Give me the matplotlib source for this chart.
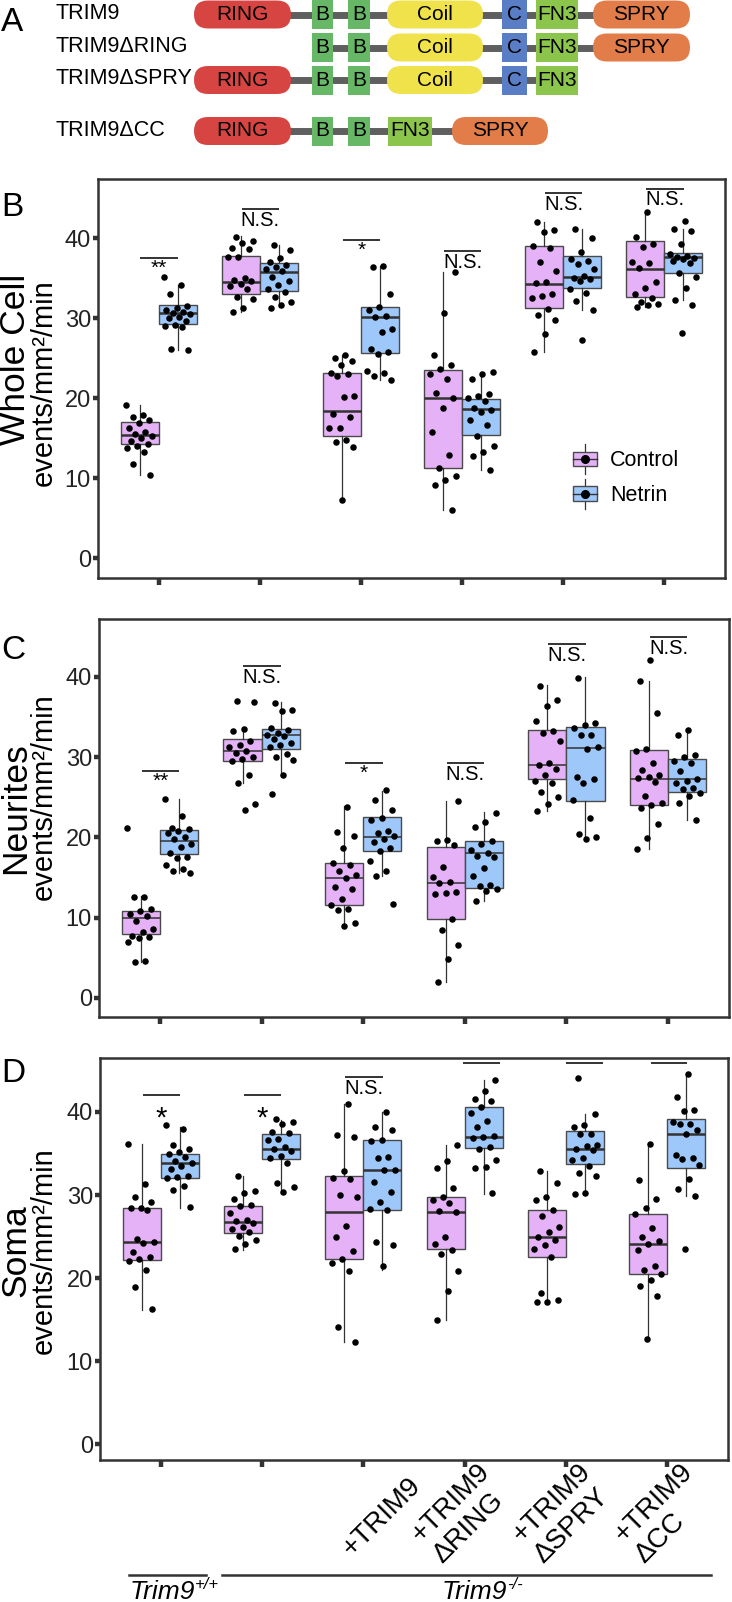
import numpy as np
import matplotlib
matplotlib.use('Agg')
from matplotlib import pyplot as plt
from matplotlib.patches import FancyBboxPatch, Rectangle
from matplotlib.legend_handler import HandlerBase
from matplotlib.lines import Line2D
from matplotlib.transforms import ScaledTranslation, blended_transform_factory

plt.rcParams['font.family'] = ['Liberation Sans', 'DejaVu Sans']

# ---- panel A: domain maps (start / end along the drawing, px) ----
construct_names = ['TRIM9', 'TRIM9ΔRING', 'TRIM9ΔSPRY', 'TRIM9ΔCC']
construct_domains = [
    ['RING', 'B', 'B', 'Coil', 'C', 'FN3', 'SPRY'],
    ['B', 'B', 'Coil', 'C', 'FN3', 'SPRY'],
    ['RING', 'B', 'B', 'Coil', 'C', 'FN3'],
    ['RING', 'B', 'B', 'FN3', 'SPRY'],
]
domain_start = [[194, 312, 348, 387, 502, 536, 593],
                [312, 348, 387, 502, 536, 593],
                [194, 312, 348, 387, 502, 536],
                [194, 312, 348, 388, 452]]
domain_end = [[291, 333, 370, 483, 527, 578, 690],
              [333, 370, 483, 527, 578, 690],
              [291, 333, 370, 483, 527, 578],
              [291, 333, 370, 432, 548]]

# ---- panels B-D ----
conditions = ['Control', 'Netrin']
x_labels = ['', '', '+TRIM9', '+TRIM9\nΔRING', '+TRIM9\nΔSPRY', '+TRIM9\nΔCC']
genotypes = [('Trim9', '+/+'), ('Trim9', '-/-')]

# box stats: (whisker low, q1, median, q3, whisker high)
wc_ctrl_box = [(10.4, 14.2, 15.4, 17.0, 19.1), (30.8, 33.0, 34.5, 37.8, 40.3),
               (7.3, 15.2, 18.4, 23.2, 25.4), (6.0, 11.2, 20.0, 23.5, 35.8),
               (25.8, 31.3, 34.3, 39.0, 42.0), (31.4, 32.6, 36.2, 39.6, 43.3)]
wc_net_box = [(26.0, 29.3, 30.6, 31.6, 34.1), (31.4, 33.4, 35.8, 36.9, 39.1),
              (22.3, 25.7, 30.1, 31.4, 36.5), (11.0, 15.4, 18.6, 19.9, 23.3),
              (31.0, 33.8, 35.1, 37.8, 41.2), (32.3, 35.7, 37.7, 38.2, 41.2)]
wc_ctrl_pts = [
    [19.1, 17.9, 17.6, 17.2, 16.9, 16.3, 15.8, 15.5, 15.3, 15.0, 14.6, 14.2, 14.0, 13.8, 13.2, 11.8, 10.4],
    [40.1, 39.7, 39.4, 38.8, 38.6, 37.7, 37.6, 35.0, 34.8, 34.6, 34.3, 34.0, 33.6, 32.7, 32.4, 31.3, 30.8],
    [25.4, 25.0, 24.6, 24.2, 23.2, 23.0, 22.8, 20.3, 20.1, 18.0, 17.6, 16.3, 16.2, 14.8, 14.5, 13.9, 7.3],
    [35.8, 30.6, 25.4, 24.2, 23.6, 23.0, 22.4, 20.6, 20.0, 18.8, 15.8, 12.9, 11.3, 10.3, 9.7, 9.1, 6.0],
    [42.0, 41.0, 40.8, 39.0, 38.8, 37.0, 35.9, 34.5, 34.4, 33.0, 32.8, 32.5, 31.2, 30.4, 29.8, 28.0, 25.8],
    [43.3, 40.2, 39.3, 38.9, 37.0, 36.9, 36.3, 34.5, 33.8, 33.0, 32.5, 32.0, 31.8, 31.6, 31.4],
]
wc_net_pts = [
    [35.1, 34.1, 33.0, 31.5, 31.3, 31.0, 30.8, 30.6, 30.5, 30.2, 30.0, 29.6, 29.2, 29.0, 28.9, 26.2, 26.0],
    [39.1, 38.5, 37.5, 37.0, 36.6, 36.4, 36.2, 35.9, 35.2, 34.7, 34.2, 33.7, 33.3, 32.7, 32.0, 31.6, 31.3],
    [36.5, 36.4, 33.0, 31.4, 31.0, 30.3, 30.1, 28.7, 28.3, 26.2, 25.8, 25.5, 23.4, 23.2, 22.8, 22.3],
    [23.3, 23.0, 22.4, 20.5, 20.2, 20.0, 19.6, 18.8, 18.5, 18.2, 17.3, 16.6, 15.3, 14.0, 13.3, 12.8, 11.0],
    [41.2, 40.0, 38.3, 37.4, 37.2, 36.8, 36.2, 35.3, 35.0, 34.9, 34.6, 33.7, 33.2, 32.2, 31.0, 27.3],
    [42.2, 41.2, 40.9, 39.3, 38.0, 37.8, 37.7, 37.5, 37.4, 37.2, 36.9, 35.7, 35.2, 33.8, 32.3, 31.6, 28.2],
]
wc_sig_y = [37.5, 43.6, 39.75, 38.4, 45.6, 46.2]
wc_sig_txt = ['**', 'N.S.', '*', 'N.S.', 'N.S.', 'N.S.']

ne_ctrl_box = [(4.4, 7.9, 10.0, 10.8, 12.7), (26.8, 29.5, 30.7, 32.2, 33.7),
               (8.9, 11.6, 14.9, 16.8, 23.9), (1.9, 9.8, 14.3, 18.8, 24.5),
               (23.3, 27.2, 29.0, 33.4, 39.0), (18.5, 24.0, 27.3, 30.9, 39.5)]
ne_net_box = [(15.6, 17.9, 19.5, 20.9, 24.8), (27.7, 31.0, 32.7, 33.5, 36.8),
              (15.2, 18.3, 20.0, 22.5, 25.8), (12.0, 13.7, 18.0, 19.5, 23.1),
              (19.8, 24.5, 31.1, 33.8, 40.0), (22.1, 25.6, 27.2, 29.8, 33.5)]
ne_ctrl_pts = [
    [21.2, 12.6, 12.5, 11.0, 10.8, 10.4, 10.2, 9.6, 8.6, 8.2, 7.7, 7.6, 7.4, 6.9, 4.6, 4.4],
    [37.0, 36.8, 33.5, 33.2, 32.0, 31.5, 31.2, 30.7, 30.5, 30.0, 29.8, 29.5, 27.8, 26.8, 24.2, 23.4],
    [23.8, 20.6, 20.2, 18.7, 16.8, 16.6, 15.8, 15.3, 14.9, 13.8, 13.5, 12.3, 11.5, 11.0, 10.9, 9.3, 8.9],
    [24.5, 19.7, 19.5, 19.0, 16.3, 15.0, 14.4, 14.3, 13.2, 13.0, 12.9, 9.8, 8.4, 6.6, 4.8, 1.9],
    [38.9, 37.1, 36.4, 34.5, 33.3, 33.0, 32.0, 29.3, 29.0, 28.5, 27.7, 27.0, 26.8, 25.7, 25.0, 24.2, 23.3],
    [42.1, 39.5, 35.5, 31.0, 30.8, 29.2, 28.4, 27.7, 27.5, 27.4, 26.9, 25.2, 24.3, 24.0, 23.6, 21.7, 19.9, 18.5],
]
ne_net_pts = [
    [24.8, 22.7, 21.2, 21.0, 20.8, 20.5, 20.0, 19.8, 19.2, 18.8, 18.0, 17.6, 17.4, 16.5, 16.1, 15.8, 15.6],
    [36.7, 35.9, 35.7, 33.6, 33.4, 33.0, 32.8, 32.6, 32.2, 31.8, 31.5, 31.2, 30.4, 30.0, 29.6, 27.7, 25.4],
    [25.9, 24.6, 23.4, 22.4, 22.2, 20.8, 20.5, 20.1, 19.8, 19.4, 18.6, 18.3, 17.0, 15.8, 15.2, 11.7],
    [23.0, 21.9, 21.3, 19.5, 19.2, 18.4, 18.0, 17.7, 17.5, 16.2, 15.2, 14.0, 13.9, 13.5, 13.3, 12.0],
    [39.8, 34.3, 34.0, 33.6, 32.8, 32.7, 31.2, 31.0, 27.5, 27.2, 26.8, 24.6, 22.4, 20.4, 20.0, 19.8],
    [33.4, 32.8, 30.3, 30.0, 29.5, 29.3, 28.2, 27.2, 27.0, 26.8, 26.2, 26.0, 25.5, 25.2, 24.3, 22.1],
]
ne_sig_y = [28.25, 41.3, 29.2, 29.25, 44.1, 44.9]
ne_sig_txt = ['**', 'N.S.', '*', 'N.S.', 'N.S.', 'N.S.']

so_ctrl_box = [(16.2, 22.2, 24.3, 28.4, 36.1), (23.4, 25.4, 26.8, 28.7, 32.3),
               (12.3, 22.3, 28.0, 32.3, 41.0), (14.9, 23.5, 28.0, 29.8, 36.0),
               (17.1, 22.5, 25.0, 28.2, 32.9), (12.7, 20.5, 24.1, 27.7, 36.1)]
so_net_box = [(28.5, 32.1, 33.9, 34.9, 38.2), (30.2, 34.3, 35.5, 37.4, 39.0),
              (21.0, 28.2, 33.0, 36.6, 40.0), (30.1, 35.7, 37.0, 40.6, 43.9),
              (30.2, 33.7, 35.5, 37.75, 39.7), (29.9, 33.3, 37.4, 39.1, 44.5)]
so_ctrl_pts = [
    [36.2, 31.3, 29.8, 29.2, 28.5, 28.4, 28.2, 24.7, 24.3, 24.2, 23.2, 22.6, 22.3, 22.1, 21.0, 18.9, 16.3],
    [32.3, 30.5, 30.2, 29.5, 28.8, 28.7, 27.8, 27.0, 26.9, 26.6, 26.2, 25.9, 25.6, 25.1, 24.6, 24.1, 23.5],
    [41.0, 37.2, 37.0, 32.9, 32.0, 31.9, 30.0, 29.8, 26.3, 25.0, 23.3, 22.3, 21.8, 20.8, 14.1, 12.3],
    [36.0, 34.1, 33.3, 30.9, 29.8, 29.4, 29.1, 28.1, 27.9, 25.0, 24.1, 23.4, 22.9, 20.8, 18.4, 14.9],
    [32.9, 31.4, 29.8, 29.4, 28.2, 27.5, 26.2, 25.6, 25.0, 24.6, 24.0, 23.5, 22.5, 18.2, 17.4, 17.1, 17.1],
    [36.1, 31.8, 29.5, 28.4, 27.7, 26.0, 24.9, 24.5, 24.1, 23.4, 21.4, 21.0, 20.5, 19.8, 19.0, 17.8, 12.7],
]
so_net_pts = [
    [38.4, 37.9, 36.0, 35.6, 35.2, 34.9, 34.6, 34.1, 33.8, 33.5, 33.1, 32.3, 32.2, 32.0, 31.1, 30.6, 28.6],
    [39.1, 38.8, 38.6, 37.6, 37.5, 36.7, 36.6, 35.8, 35.6, 35.3, 34.7, 34.5, 33.9, 31.5, 31.0, 30.4],
    [40.0, 38.2, 37.8, 36.6, 36.5, 34.6, 34.5, 33.0, 33.0, 31.6, 30.4, 29.2, 28.3, 28.2, 24.4, 24.0, 21.4],
    [43.9, 42.5, 41.6, 41.3, 40.6, 39.9, 38.9, 38.2, 37.1, 37.0, 36.9, 35.8, 35.6, 34.2, 33.4, 33.3, 30.2],
    [44.1, 39.7, 38.4, 38.2, 37.4, 37.3, 36.0, 35.9, 35.6, 35.4, 34.5, 34.2, 33.5, 32.7, 32.3, 30.3, 30.1],
    [44.6, 41.8, 40.2, 40.1, 38.8, 38.6, 38.5, 37.8, 37.3, 34.8, 34.5, 34.4, 33.6, 31.9, 30.7, 29.9, 23.5],
]
so_sig_y = [42.1, 42.1, 44.2, 45.9, 45.9, 45.9]
so_sig_txt = ['*', '*', 'N.S.', '', '', '']

# ---- styling ----
W, H = 732, 1602
PINK = '#e5b2f7'
BLUE = '#9ec8fa'
DARK = '#333333'
dom_color = {'RING': '#d64541', 'B': '#66b866', 'Coil': '#efe24a', 'C': '#5a7ec6',
             'FN3': '#8cc54b', 'SPRY': '#e27c48'}
pill_domains = ('RING', 'Coil', 'SPRY')

fig = plt.figure(figsize=(W / 100, H / 100), dpi=100)


def px_axes(left, top, right, bottom):
    return fig.add_axes([left / W, 1 - bottom / H, (right - left) / W, (bottom - top) / H])


# panel A
axA = px_axes(0, 0, W, 160)
axA.set_xlim(0, W)
axA.set_ylim(160, 0)
axA.axis('off')
row_y = [14.5, 47.5, 80, 131]
for name, doms, st, en, y in zip(construct_names, construct_domains, domain_start, domain_end, row_y):
    axA.text(55, y - 1, name, fontsize=15.5, ha='left', va='center')
    axA.plot([st[0] + 5, en[-1] - 5], [y, y], color='#5f5f5f', lw=5, zorder=1, solid_capstyle='butt')
    h = 28
    for d, x0, x1 in zip(doms, st, en):
        if d in pill_domains:
            p = FancyBboxPatch((x0, y - h / 2), x1 - x0, h,
                               boxstyle='round,pad=0,rounding_size=%g' % (h / 2),
                               fc=dom_color[d], ec='none', zorder=2)
        else:
            p = Rectangle((x0, y - h / 2 - 0.5), x1 - x0, h + 1, fc=dom_color[d], ec='none', zorder=2)
        axA.add_patch(p)
        axA.text((x0 + x1) / 2, y, d, fontsize=15, ha='center', va='center', zorder=3)


class BoxKey(HandlerBase):
    def create_artists(self, legend, orig_handle, xdescent, ydescent, width, height, fontsize, trans):
        x0, y0 = -xdescent, -ydescent
        col = orig_handle.get_facecolor()
        wl = Line2D([x0 + width / 2] * 2, [y0 - 3, y0 + height + 3], color=DARK, lw=0.9, transform=trans)
        box = Rectangle((x0, y0 + height * 0.15), width, height * 0.7, fc=col, ec='#4a4a4a', lw=1.0,
                        transform=trans)
        med = Line2D([x0, x0 + width], [y0 + height / 2] * 2, color=DARK, lw=1.0, transform=trans)
        dot = Line2D([x0 + width / 2], [y0 + height / 2], marker='o', ms=5.5, color='black',
                     linestyle='none', transform=trans)
        return [wl, box, med, dot]


BOX_W = 0.375
DODGE = 0.1875


def draw_panel(ax, ctrl_box, net_box, ctrl_pts, net_pts, sig_y, sig_txt, med_lw, ylim,
               sig_span, star_size, star_gap):
    pos = np.arange(6)
    for boxes, pts_list, shift, col in [(ctrl_box, ctrl_pts, -DODGE, PINK),
                                         (net_box, net_pts, DODGE, BLUE)]:
        stats = [dict(whislo=b[0], q1=b[1], med=b[2], q3=b[3], whishi=b[4], fliers=[]) for b in boxes]
        ax.bxp(stats, positions=pos + shift, widths=BOX_W, patch_artist=True,
               showcaps=False, showfliers=False, manage_ticks=False,
               boxprops=dict(facecolor=col, edgecolor='#4a4a4a', linewidth=1.0),
               medianprops=dict(color=DARK, linewidth=med_lw, solid_capstyle='butt'),
               whiskerprops=dict(color=DARK, linewidth=0.9))
        for i, pts in enumerate(pts_list):
            n = len(pts)
            jit = ((np.arange(n) * 0.618 + 0.31 * i) % 1 - 0.5) * 0.27
            ax.scatter(i + shift + jit, pts, s=22, color='black', linewidths=0, zorder=3)
    for i, (y, t) in enumerate(zip(sig_y, sig_txt)):
        s0, s1 = sig_span[i]
        ax.plot([i + s0, i + s1], [y, y], color=DARK, lw=1.4, solid_capstyle='butt')
        if t:
            star = t.startswith('*')
            ax.annotate(t, (i + (s0 + s1) / 2, y), xytext=(0, -(star_gap if star else 1.2)),
                        textcoords='offset points', ha='center', va='top',
                        fontsize=star_size if star else 14.5)
    ax.set_xlim(-0.6, 5.6)
    ax.set_ylim(*ylim)
    ax.set_yticks([0, 10, 20, 30, 40])
    ax.set_xticks(pos)
    ax.tick_params(axis='y', length=3.6, width=3.2, color=DARK, labelsize=17, labelcolor='#222222', pad=1.5)
    ax.tick_params(axis='x', length=5, width=3.2, color=DARK, pad=0)
    for sp in ax.spines.values():
        sp.set_color(DARK)
        sp.set_linewidth(1.8)


std_span = [(-0.18, 0.19)] * 6
axB = px_axes(98, 179, 725, 578)
draw_panel(axB, wc_ctrl_box, wc_net_box, wc_ctrl_pts, wc_net_pts, wc_sig_y, wc_sig_txt, 1.8,
           (-2.5, 47.4), std_span, 15, 0.5)
axB.set_xticklabels([''] * 6)

axC = px_axes(99, 619, 729, 1017)
draw_panel(axC, ne_ctrl_box, ne_net_box, ne_ctrl_pts, ne_net_pts, ne_sig_y, ne_sig_txt, 1.1,
           (-2.4, 47.2), std_span, 15, 0.5)
axC.set_xticklabels([''] * 6)

axD = px_axes(100, 1058, 728, 1460)
d_span = std_span[:3] + [(-0.02, 0.35), (0.0, 0.37), (-0.16, 0.2)]
draw_panel(axD, so_ctrl_box, so_net_box, so_ctrl_pts, so_net_pts, so_sig_y, so_sig_txt, 1.8,
           (-1.9, 46.5), d_span, 21, 7)
axD.set_xticklabels(x_labels, fontsize=20)
for lab in axD.get_xticklabels():
    if '\n' in lab.get_text():
        off = ScaledTranslation(0.32, -0.11, fig.dpi_scale_trans)
    else:
        off = ScaledTranslation(0.54, -0.15, fig.dpi_scale_trans)
    lab.set_rotation(45)
    lab.set_rotation_mode('anchor')
    lab.set_ha('right')
    lab.set_va('center')
    lab.set_multialignment('left')
    lab.set_transform(lab.get_transform() + off)

# legend in panel B
hnd = [Rectangle((0, 0), 1, 1, fc=PINK), Rectangle((0, 0), 1, 1, fc=BLUE)]
axB.legend(hnd, conditions, handler_map={Rectangle: BoxKey()}, loc='upper left',
           bbox_to_anchor=(0.757, 0.325), frameon=False, fontsize=15.5, handlelength=1.15,
           handleheight=1.15, handletextpad=0.6, labelspacing=0.55, borderaxespad=0, borderpad=0)

# genotype brackets under panel D
tr = blended_transform_factory(axD.transData, axD.transAxes)
axD.plot([-0.31, 0.45], [-0.286, -0.286], color=DARK, lw=1.8, transform=tr, clip_on=False)
axD.plot([0.6, 5.43], [-0.286, -0.286], color=DARK, lw=1.8, transform=tr, clip_on=False)
for (gene, sup), gx in zip(genotypes, [-0.31, 2.77]):
    t = axD.text(gx, -0.345, gene, style='italic', fontsize=19, ha='left', va='baseline', transform=tr)
    axD.annotate(sup, xy=(1.0, 0.62), xycoords=t, fontsize=12, style='italic',
                 ha='left', va='baseline')

# y labels and panel letters
ylab = [('Whole Cell', 359, 383), ('Neurites', 808, 797), ('Soma', 1251, 1251)]
for first, y1, y2 in ylab:
    fig.text(16 / W, 1 - y1 / H, first, rotation=90, ha='center', va='center', fontsize=25.5)
    fig.text(44 / W, 1 - y2 / H, 'events/mm²/min', rotation=90, ha='center', va='center', fontsize=21)

for letter, y in [('A', 7), ('B', 192), ('C', 635), ('D', 1058)]:
    fig.text(1 / W, 1 - y / H, letter, fontsize=24, ha='left', va='top')

fig.savefig('out.png', dpi=100)
